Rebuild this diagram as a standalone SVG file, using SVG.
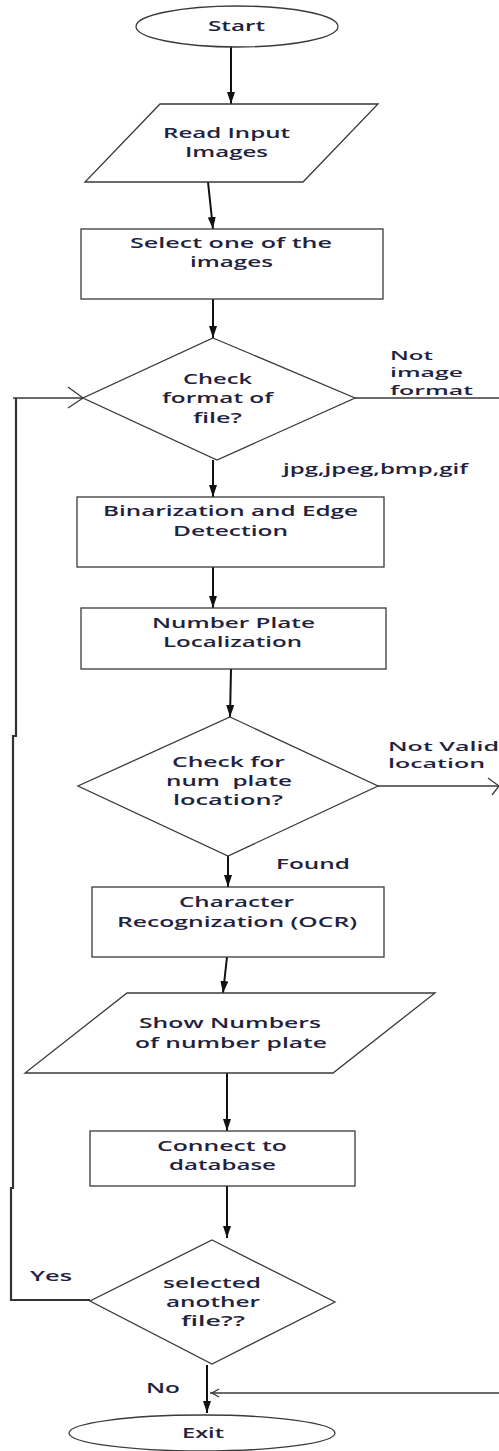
<svg xmlns="http://www.w3.org/2000/svg" width="499" height="1451" viewBox="0 0 499 1451">
<style>
.shape{fill:#ffffff;stroke:#3a3a3a;stroke-width:1.3}
.t{font-family:"Open Sans","Liberation Sans",sans-serif;font-size:14.5px;font-weight:600;fill:#1f2340}
.s{font-size:12.5px}
.arr{fill:none;stroke:#111111;stroke-width:2}
.thin{fill:none;stroke:#3a3a3a;stroke-width:1.3}
.loop{fill:none;stroke:#333333;stroke-width:2.2}
</style>
<defs>
<marker id="ah" markerWidth="12" markerHeight="8" refX="12" refY="4" orient="auto" markerUnits="userSpaceOnUse">
<path d="M0,0 L12,4 L0,8 Z" fill="#111111"/>
</marker>
</defs>
<rect width="499" height="1451" fill="#ffffff"/>

<g id="connectors">
<line class="arr" x1="231" y1="47" x2="231" y2="104" marker-end="url(#ah)"/>
<line class="arr" x1="208" y1="182" x2="213" y2="229" marker-end="url(#ah)"/>
<line class="arr" x1="213" y1="299" x2="213" y2="338" marker-end="url(#ah)"/>
<line class="arr" x1="213" y1="460" x2="213" y2="497" marker-end="url(#ah)"/>
<line class="arr" x1="213" y1="567" x2="213" y2="608" marker-end="url(#ah)"/>
<line class="arr" x1="231" y1="669" x2="230" y2="717" marker-end="url(#ah)"/>
<line class="arr" x1="228" y1="856" x2="228" y2="887" marker-end="url(#ah)"/>
<line class="arr" x1="227" y1="957" x2="223" y2="993" marker-end="url(#ah)"/>
<line class="arr" x1="227" y1="1073" x2="227" y2="1131" marker-end="url(#ah)"/>
<line class="arr" x1="227" y1="1186" x2="227" y2="1238" marker-end="url(#ah)"/>
<line class="arr" x1="207" y1="1365" x2="207" y2="1413" marker-end="url(#ah)"/>
<line class="thin" x1="355" y1="398" x2="499" y2="398"/>
<line class="thin" x1="378" y1="786" x2="499" y2="786"/>
<polyline class="thin" points="488,778 499,786 492,795"/>
<polyline class="loop" points="90,1300 11,1300 11,1188 13,1188 13,736 16,736 16,398"/>
<line class="thin" x1="13" y1="398" x2="83" y2="398"/>
<polyline class="thin" points="68,387 83,398 68,408"/>
<line class="thin" x1="499" y1="1393" x2="210" y2="1393"/>
<polyline class="thin" points="219,1389 212,1393 219,1397"/>
</g>

<g id="start">
<ellipse class="shape" cx="237" cy="26.5" rx="101" ry="20.5"/>
<text class="t" x="208" y="31" textLength="57" lengthAdjust="spacingAndGlyphs">Start</text>
</g>

<g id="read-input">
<polygon class="shape" points="160,104 378,104 303,182 85,182"/>
<text class="t" x="163" y="138" textLength="127" lengthAdjust="spacingAndGlyphs">Read Input</text>
<text class="t" x="185" y="157" textLength="83" lengthAdjust="spacingAndGlyphs">Images</text>
</g>

<g id="select">
<rect class="shape" x="81" y="229" width="302" height="70"/>
<text class="t" x="130" y="248" textLength="202" lengthAdjust="spacingAndGlyphs">Select one of the</text>
<text class="t" x="190" y="267" textLength="83" lengthAdjust="spacingAndGlyphs">images</text>
</g>

<g id="check-format">
<polygon class="shape" points="213,338 355,398 217,460 83,398"/>
<text class="t" x="183" y="384" textLength="69" lengthAdjust="spacingAndGlyphs">Check</text>
<text class="t" x="162" y="403" textLength="111" lengthAdjust="spacingAndGlyphs">format of</text>
<text class="t" x="193" y="423" textLength="49" lengthAdjust="spacingAndGlyphs">file?</text>
</g>

<g id="label-not-image">
<text class="t s" x="390" y="360" textLength="43" lengthAdjust="spacingAndGlyphs">Not</text>
<text class="t s" x="390" y="377" textLength="73" lengthAdjust="spacingAndGlyphs">image</text>
<text class="t s" x="390" y="395" textLength="83" lengthAdjust="spacingAndGlyphs">format</text>
</g>

<g id="label-formats">
<text class="t" x="283" y="474" textLength="185" lengthAdjust="spacingAndGlyphs">jpg,jpeg,bmp,gif</text>
</g>

<g id="binarization">
<rect class="shape" x="77" y="497" width="307" height="70"/>
<text class="t" x="103" y="516" textLength="255" lengthAdjust="spacingAndGlyphs">Binarization and Edge</text>
<text class="t" x="173" y="536" textLength="115" lengthAdjust="spacingAndGlyphs">Detection</text>
</g>

<g id="localization">
<rect class="shape" x="81" y="608" width="305" height="61"/>
<text class="t" x="152" y="628" textLength="163" lengthAdjust="spacingAndGlyphs">Number Plate</text>
<text class="t" x="163" y="647" textLength="139" lengthAdjust="spacingAndGlyphs">Localization</text>
</g>

<g id="check-location">
<polygon class="shape" points="230,717 378,786 228,856 78,786"/>
<text class="t" x="172" y="767" textLength="113" lengthAdjust="spacingAndGlyphs">Check for</text>
<text class="t" x="166" y="786" textLength="126" lengthAdjust="spacingAndGlyphs">num&#160; plate</text>
<text class="t" x="173" y="805" textLength="110" lengthAdjust="spacingAndGlyphs">location?</text>
</g>

<g id="label-not-valid">
<text class="t s" x="388" y="751" textLength="111" lengthAdjust="spacingAndGlyphs">Not Valid</text>
<text class="t s" x="388" y="768" textLength="97" lengthAdjust="spacingAndGlyphs">location</text>
</g>

<g id="label-found">
<text class="t" x="276" y="869" textLength="74" lengthAdjust="spacingAndGlyphs">Found</text>
</g>

<g id="ocr">
<rect class="shape" x="92" y="887" width="292" height="70"/>
<text class="t" x="179" y="907" textLength="115" lengthAdjust="spacingAndGlyphs">Character</text>
<text class="t" x="117" y="927" textLength="240" lengthAdjust="spacingAndGlyphs">Recognization (OCR)</text>
</g>

<g id="show-numbers">
<polygon class="shape" points="127,993 435,993 333,1073 25,1073"/>
<text class="t" x="139" y="1028" textLength="182" lengthAdjust="spacingAndGlyphs">Show Numbers</text>
<text class="t" x="135" y="1048" textLength="192" lengthAdjust="spacingAndGlyphs">of number plate</text>
</g>

<g id="database">
<rect class="shape" x="90" y="1131" width="265" height="55"/>
<text class="t" x="157" y="1151" textLength="130" lengthAdjust="spacingAndGlyphs">Connect to</text>
<text class="t" x="169" y="1170" textLength="107" lengthAdjust="spacingAndGlyphs">database</text>
</g>

<g id="another-file">
<polygon class="shape" points="212,1240 335,1302 212,1364 90,1301"/>
<text class="t" x="163" y="1288" textLength="98" lengthAdjust="spacingAndGlyphs">selected</text>
<text class="t" x="166" y="1307" textLength="94" lengthAdjust="spacingAndGlyphs">another</text>
<text class="t" x="181" y="1326" textLength="64" lengthAdjust="spacingAndGlyphs">file??</text>
</g>

<g id="label-yes">
<text class="t" x="30" y="1281" textLength="42" lengthAdjust="spacingAndGlyphs">Yes</text>
</g>

<g id="label-no">
<text class="t" x="146" y="1393" textLength="34" lengthAdjust="spacingAndGlyphs">No</text>
</g>

<g id="exit">
<ellipse class="shape" cx="202" cy="1433" rx="133" ry="18"/>
<text class="t" x="182" y="1438" textLength="42" lengthAdjust="spacingAndGlyphs">Exit</text>
</g>
</svg>
